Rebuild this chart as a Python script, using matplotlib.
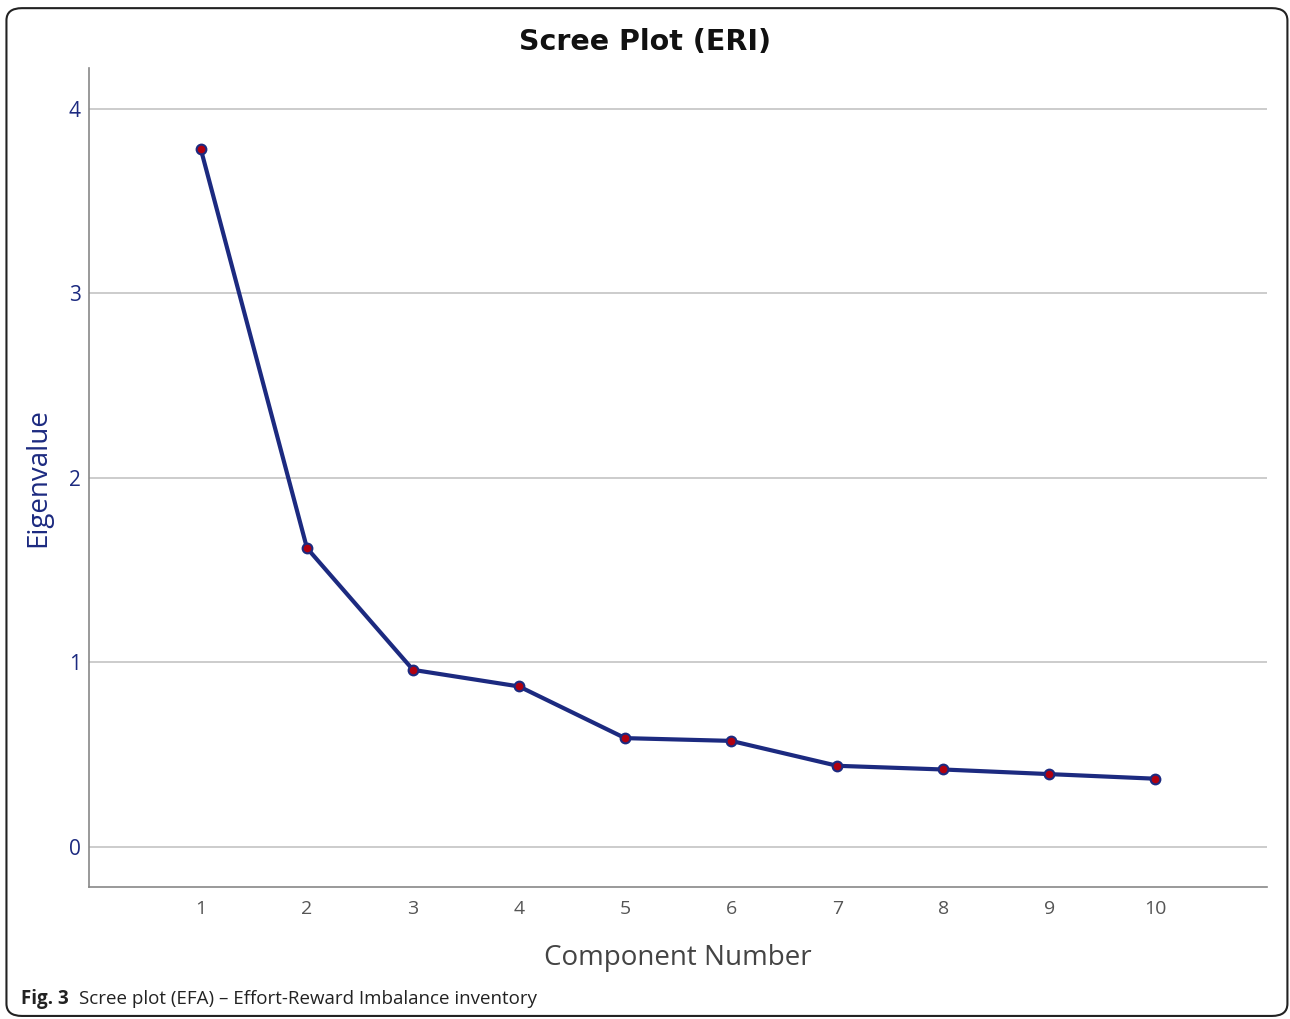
import matplotlib
matplotlib.use("Agg")
import matplotlib.pyplot as plt
from matplotlib.patches import FancyBboxPatch

components = [1, 2, 3, 4, 5, 6, 7, 8, 9, 10]
eigenvalues = [3.78, 1.62, 0.96, 0.87, 0.59, 0.575, 0.44, 0.42, 0.395, 0.37]
y_ticks = [0, 1, 2, 3, 4]

navy = "#1c2a80"
fig = plt.figure(figsize=(12.9, 10.19), dpi=100)
ax = fig.add_axes([0.069, 0.1295, 0.913, 0.8035])

for t in y_ticks:
    ax.axhline(t, color="#c4c4c4", lw=1.2, zorder=1)
ax.plot(components, eigenvalues, color=navy, lw=3.0, zorder=3,
        marker="o", markersize=7, markerfacecolor="#b00010",
        markeredgecolor=navy, markeredgewidth=1.5)

ax.set_xlim(-0.055, 11.05)
ax.set_ylim(-0.217, 4.22)
ax.set_xticks(components)
ax.set_yticks(y_ticks)
ax.tick_params(length=0)
ax.tick_params(axis="x", colors="#555555", labelsize=14, pad=9)
ax.tick_params(axis="y", colors=navy, labelsize=15, pad=6)
for lab in ax.get_xticklabels() + ax.get_yticklabels():
    lab.set_fontfamily("Open Sans")
for s in ["top", "right"]:
    ax.spines[s].set_visible(False)
for s in ["left", "bottom"]:
    ax.spines[s].set_color("#888888")
    ax.spines[s].set_linewidth(1.2)

ax.set_xlabel("Component Number", fontsize=20, color="#444444",
              family="Open Sans", labelpad=19)
ax.set_ylabel("Eigenvalue", fontsize=20, color=navy,
              family="Open Sans", labelpad=12)

fig.text(0.5, 0.959, "Scree Plot (ERI)", ha="center", va="center",
         fontsize=20.5, fontweight="bold", color="#111111")

fig.text(0.016, 0.02, "Fig. 3", ha="left", va="center", fontsize=13.5,
         fontweight="bold", family="Open Sans", color="#222222")
fig.text(0.061, 0.02, "Scree plot (EFA) – Effort-Reward Imbalance inventory",
         ha="left", va="center", fontsize=13.5, family="Open Sans", color="#222222")

border = FancyBboxPatch((0.005, 0.003), 0.993, 0.989,
                        boxstyle="round,pad=0,rounding_size=0.012",
                        transform=fig.transFigure, fill=False,
                        edgecolor="#222222", lw=1.5)
fig.patches.append(border)

fig.savefig("out.png", dpi=100)
